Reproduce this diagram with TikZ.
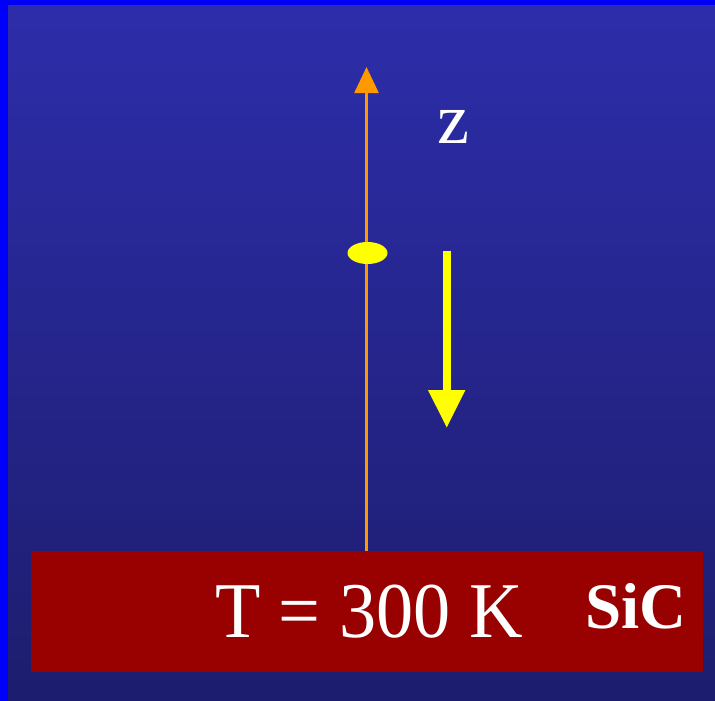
\documentclass[tikz,border=0pt]{standalone}
\usepackage{fontspec}
\setmainfont{Liberation Serif}
\usetikzlibrary{arrows.meta,shapes.geometric}
\definecolor{bgtop}{RGB}{45,45,170}
\definecolor{bgbot}{RGB}{29,29,110}
\definecolor{frameblue}{RGB}{0,0,250}
\definecolor{sicred}{RGB}{153,0,0}
\definecolor{axisorange}{RGB}{255,153,0}
\definecolor{partyellow}{RGB}{255,255,0}
\tikzset{
  axisline/.style={draw=axisorange, line width=2.6pt, -{Triangle[length=26pt,width=24pt]}},
  fallarrow/.style={draw=partyellow, line width=8pt, -{Triangle[length=38pt,width=35pt]}},
  particle/.style={ellipse, fill=partyellow, minimum width=40pt, minimum height=22pt, inner sep=0pt},
  whitetext/.style={text=white, inner sep=0pt}
}
\begin{document}
\begin{tikzpicture}[x=1pt,y=-1pt]
\useasboundingbox (0,0) rectangle (715,701);
\fill[frameblue] (0,0) rectangle (715,701);
\shade[top color=bgtop, bottom color=bgbot] (8,6) rectangle (715,701);
\fill[sicred] (31,551) rectangle (703,672);
\coordinate (axisbase) at (366.5,551);
\coordinate (axistip) at (366.5,67);
\draw[axisline] (axisbase) -- (axistip);
\node[particle] (p) at (367.5,253) {};
\coordinate (fstart) at (446.7,251);
\coordinate (fend) at (446.7,428);
\draw[fallarrow] (fstart) -- (fend);
\node[whitetext, anchor=base, font=\fontsize{72}{72}\selectfont] (z) at (453,143) {z};
\node[whitetext, anchor=base, xscale=0.94, font=\fontsize{79}{79}\selectfont] (t) at (369,637) {T = 300 K};
\node[whitetext, anchor=base, font=\fontsize{65}{65}\selectfont\bfseries] (sic) at (636,628) {SiC};
\end{tikzpicture}
\end{document}
